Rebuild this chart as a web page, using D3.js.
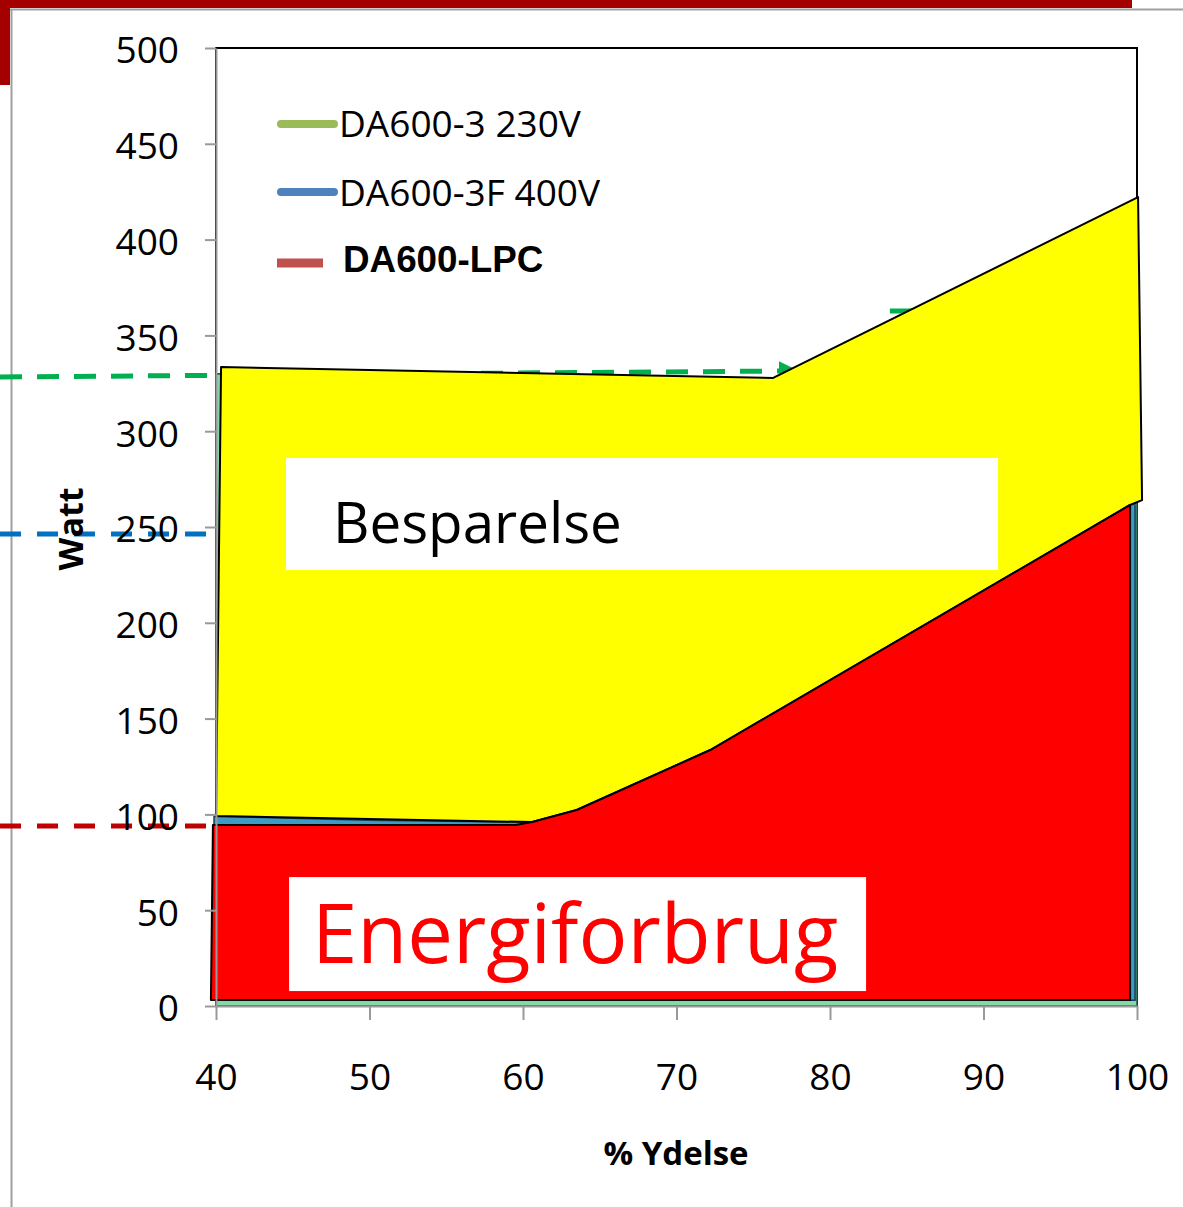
<!DOCTYPE html>
<html>
<head>
<meta charset="utf-8">
<script src="https://cdn.jsdelivr.net/npm/d3@7"></script>
<style>
  body { margin: 0; background: #fff; }
  svg { display: block; }
</style>
</head>
<body>
<script>
// ---- data ----
const xTicks = [40, 50, 60, 70, 80, 90, 100];
const yTicks = [0, 50, 100, 150, 200, 250, 300, 350, 400, 450, 500];

// underlying Excel area series
const seriesX = [40, 50, 60, 70, 80, 90, 100];
const green230 = [330, 329, 328, 326, 327, 378, 420];
const lpc = [95, 95, 95, 126, 166, 214, 261];
const blue400 = [99, 97, 96, 128, 169, 217, 264];

// hand drawn overlay shapes (x = % Ydelse, y = Watt)
const besparelsePts = [[40.33, 333.5], [76.3, 327.8], [100.07, 422.2], [100.33, 264], [99.55, 261.5],
  [72.2, 133.6], [63.5, 102.3], [60.6, 96], [40, 99.2]];
const energiPts = [[39.8, 94.5], [59.5, 94.5], [60.6, 96], [63.5, 102.3], [72.2, 133.6],
  [99.55, 261.5], [99.55, 3.1], [39.67, 3.1]];

// dashed arrows
const greenArrow = [[25.93, 328.3], [76.8, 331.4]];
const greenArrow2 = [[83.9, 362.7], [95, 362.7]];
const blueArrow = [[25.93, 246.3], [40, 246.3]];
const redArrow = [[25.93, 94], [39.7, 94]];

const legendNames = ["DA600-3 230V", "DA600-3F 400V", "DA600-LPC"];
const legendColors = ["#9BBB59", "#4F81BD", "#C0504D"];

let width = 1183;
let height = 1207;

let svg = d3.select("body").append("svg")
  .attr("width", width).attr("height", height);

// slide frame
svg.append("rect").attr("x", 0).attr("y", 0).attr("width", 1132).attr("height", 8).attr("fill", "#A50000");
svg.append("rect").attr("x", 0).attr("y", 0).attr("width", 10).attr("height", 85).attr("fill", "#A50000");
svg.append("line").attr("x1", 10).attr("x2", 1183).attr("y1", 9.5).attr("y2", 9.5)
  .attr("stroke", "#a0a0a0").attr("stroke-width", 2);
svg.append("line").attr("x1", 11.5).attr("x2", 11.5).attr("y1", 9).attr("y2", 1207)
  .attr("stroke", "#a0a0a0").attr("stroke-width", 2);

// scales
let x = d3.scaleLinear().domain([40, 100]).range([216, 1137]);
let y = d3.scaleLinear().domain([0, 500]).range([1006, 48]);

// plot box
svg.append("rect")
  .attr("x", x(40)).attr("y", y(500))
  .attr("width", x(100) - x(40)).attr("height", y(0) - y(500))
  .attr("fill", "none").attr("stroke", "#000").attr("stroke-width", 2);

let line = d3.line().x(d => x(d[0])).y(d => y(d[1]));

// arrow marker
svg.append("defs").append("marker")
  .attr("id", "ghead").attr("viewBox", "0 0 10 10")
  .attr("refX", 1).attr("refY", 5)
  .attr("markerWidth", 4).attr("markerHeight", 4)
  .attr("markerUnits", "strokeWidth")
  .attr("orient", "auto")
  .append("path").attr("d", "M0,0 L10,5 L0,10 Z").attr("fill", "#00B050");

// underlying area series
function areaData(vals) { return seriesX.map((v, i) => [v, vals[i]]); }
let area0 = d3.area().x(d => x(d[0])).y0(y(0)).y1(d => y(d[1]));
let area1 = d3.area().x(d => x(d[0]) - 2).y0(y(3)).y1(d => y(d[1]));

svg.append("path").attr("d", area0(areaData(green230)))
  .attr("fill", "#86d8a6").attr("stroke", "#1d5a48").attr("stroke-width", 1.5);
svg.append("path").attr("d", area1(areaData(lpc)))
  .attr("fill", "#C0504D").attr("stroke", "#333").attr("stroke-width", 1);
svg.append("path").attr("d", area1(areaData(blue400)))
  .attr("fill", "#3c9cc4").attr("stroke", "#1b3f5a").attr("stroke-width", 1.5);

// dashed annotation lines
svg.append("path").attr("d", line(greenArrow)).attr("fill", "none")
  .attr("stroke", "#00B050").attr("stroke-width", 5).attr("stroke-dasharray", "22,15")
  .attr("marker-end", "url(#ghead)");
svg.append("path").attr("d", line(greenArrow2)).attr("fill", "none")
  .attr("stroke", "#00B050").attr("stroke-width", 5);
svg.append("path").attr("d", line(blueArrow)).attr("fill", "none")
  .attr("stroke", "#0070C0").attr("stroke-width", 5).attr("stroke-dasharray", "21,16");
svg.append("path").attr("d", line(redArrow)).attr("fill", "none")
  .attr("stroke", "#C00000").attr("stroke-width", 5).attr("stroke-dasharray", "21,16");

// overlay shapes
svg.append("path").attr("d", line(besparelsePts) + "Z")
  .attr("fill", "#FFFF00").attr("stroke", "#000").attr("stroke-width", 2)
  .attr("stroke-linejoin", "round");
svg.append("path").attr("d", line(energiPts) + "Z")
  .attr("fill", "#FF0000").attr("stroke", "#000").attr("stroke-width", 2)
  .attr("stroke-linejoin", "round");

// text boxes
svg.append("rect")
  .attr("x", x(44.56)).attr("y", y(286))
  .attr("width", x(90.95) - x(44.56)).attr("height", y(227.6) - y(286))
  .attr("fill", "#fff");
svg.append("text").attr("x", x(47.62)).attr("y", y(241.6))
  .text("Besparelse")
  .style("font-family", "Open Sans").style("font-size", "56.5px").style("fill", "#000");

svg.append("rect")
  .attr("x", x(44.76)).attr("y", y(67.3))
  .attr("width", x(82.35) - x(44.76)).attr("height", y(7.8) - y(67.3))
  .attr("fill", "#fff");
svg.append("text").attr("x", x(46.25)).attr("y", y(22.4))
  .text("Energiforbrug")
  .style("font-family", "Open Sans").style("font-size", "81.5px").style("fill", "#FF0000");

// axes
let yAxis = d3.axisLeft(y).tickValues(yTicks).tickSize(11).tickSizeOuter(0).tickPadding(26);
let gy = svg.append("g").attr("transform", "translate(" + x(40) + ",0)").call(yAxis);
gy.selectAll("text").attr("dy", "0.4em")
  .style("font-family", "Open Sans").style("font-size", "37px").style("fill", "#000");

let xAxis = d3.axisBottom(x).tickValues(xTicks).tickSize(14).tickSizeOuter(0).tickPadding(44);
let gx = svg.append("g").attr("transform", "translate(0," + y(0) + ")").call(xAxis);
gx.selectAll("text")
  .style("font-family", "Open Sans").style("font-size", "37px").style("fill", "#000");

svg.selectAll(".domain, .tick line").attr("stroke", "#999").attr("stroke-width", 2);

// axis titles
svg.append("text")
  .attr("transform", "translate(83,529) rotate(-90)")
  .attr("text-anchor", "middle")
  .text("Watt")
  .style("font-family", "Open Sans").style("font-weight", "bold").style("font-size", "34px");
svg.append("text")
  .attr("x", 676).attr("y", 1165)
  .attr("text-anchor", "middle")
  .text("% Ydelse")
  .style("font-family", "Open Sans").style("font-weight", "bold").style("font-size", "33px");

// legend
let legendY = [124, 192, 263];
let legendTextY = [137, 206, 272];
legendNames.forEach(function(name, i) {
  let last = i == 2;
  svg.append("line")
    .attr("x1", last ? 277 : 281).attr("x2", last ? 323 : 334)
    .attr("y1", legendY[i]).attr("y2", legendY[i])
    .attr("stroke", legendColors[i]).attr("stroke-width", last ? 9 : 8)
    .attr("stroke-linecap", last ? "butt" : "round");
  svg.append("text")
    .attr("x", last ? 343 : 339).attr("y", legendTextY[i])
    .text(name)
    .style("font-family", last ? "Liberation Sans" : "Open Sans")
    .style("font-weight", last ? "bold" : "normal")
    .style("font-size", last ? "36.8px" : "37px");
});
</script>
</body>
</html>
